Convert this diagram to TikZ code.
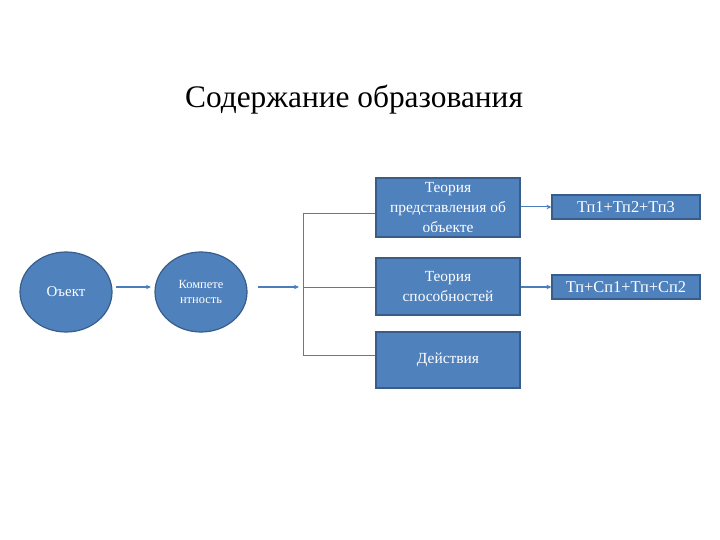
\documentclass[tikz,border=0pt]{standalone}
\usepackage{fontspec}
\setmainfont{Liberation Serif}
\usetikzlibrary{arrows.meta,shapes.geometric}
\definecolor{boxfill}{HTML}{4F81BD}
\definecolor{boxline}{HTML}{385D8A}
\definecolor{lineblue}{HTML}{4A7EBB}
\begin{document}
\begin{tikzpicture}[x=1bp,y=-1bp,
  blob/.style={ellipse,fill=boxfill,draw=boxline,line width=1.2bp,minimum width=92bp,minimum height=80bp,text=white,font=\fontsize{15}{16}\selectfont,align=center,inner sep=0pt},
  rbox/.style={rectangle,fill=boxfill,draw=boxline,line width=1.2bp,text=white,font=\fontsize{15.5}{20.5}\selectfont,align=center,inner sep=0pt},
  conn/.style={draw=lineblue,line width=0.8bp},
  arr/.style={draw=lineblue,line width=1.5bp,-{Stealth[length=5bp,width=4.5bp]}}]
\useasboundingbox (0,0) rectangle (720,540);
\node (title) at (354,100) {\fontsize{31.5}{34}\selectfont Содержание образования};
\node[blob] (obj) at (66,292) {Оъект};
\node[blob,font=\fontsize{12.5}{15}\selectfont] (komp) at (201,292) {Компете\\нтность};
\coordinate (b1s) at (116,287);
\coordinate (b1e) at (151,287);
\coordinate (b2s) at (258,287);
\coordinate (b2e) at (299,287);
\draw[arr] (b1s) -- (b1e);
\draw[arr] (b2s) -- (b2e);
\node[rbox,minimum width=144bp,minimum height=59bp] (t1) at (448,207.5) {Теория\\представления об\\объекте};
\node[rbox,minimum width=144bp,minimum height=57bp] (t2) at (448,286.5) {Теория\\способностей};
\node[rbox,minimum width=144bp,minimum height=56bp] (t3) at (448,360) {Действия};
\coordinate (vtop) at (303,213);
\coordinate (vmid) at (303,287);
\coordinate (vbot) at (303,355);
\draw[conn] (vtop) -- (vbot);
\draw[conn] (vtop) -- (vtop -| t1.west);
\draw[conn] (vmid) -- (vmid -| t2.west);
\draw[conn] (vbot) -- (vbot -| t3.west);
\node[rbox,minimum width=148bp,minimum height=24bp,font=\fontsize{16.5}{18}\selectfont] (s1) at (626,207) {Тп1+Тп2+Тп3};
\node[rbox,minimum width=148bp,minimum height=24bp,font=\fontsize{16.5}{18}\selectfont] (s2) at (626,287) {Тп+Сп1+Тп+Сп2};
\draw[arr,line width=1bp] (t1.east |- s1) -- (s1.west);
\draw[arr] (t2.east |- s2) -- (s2.west);
\end{tikzpicture}
\end{document}
